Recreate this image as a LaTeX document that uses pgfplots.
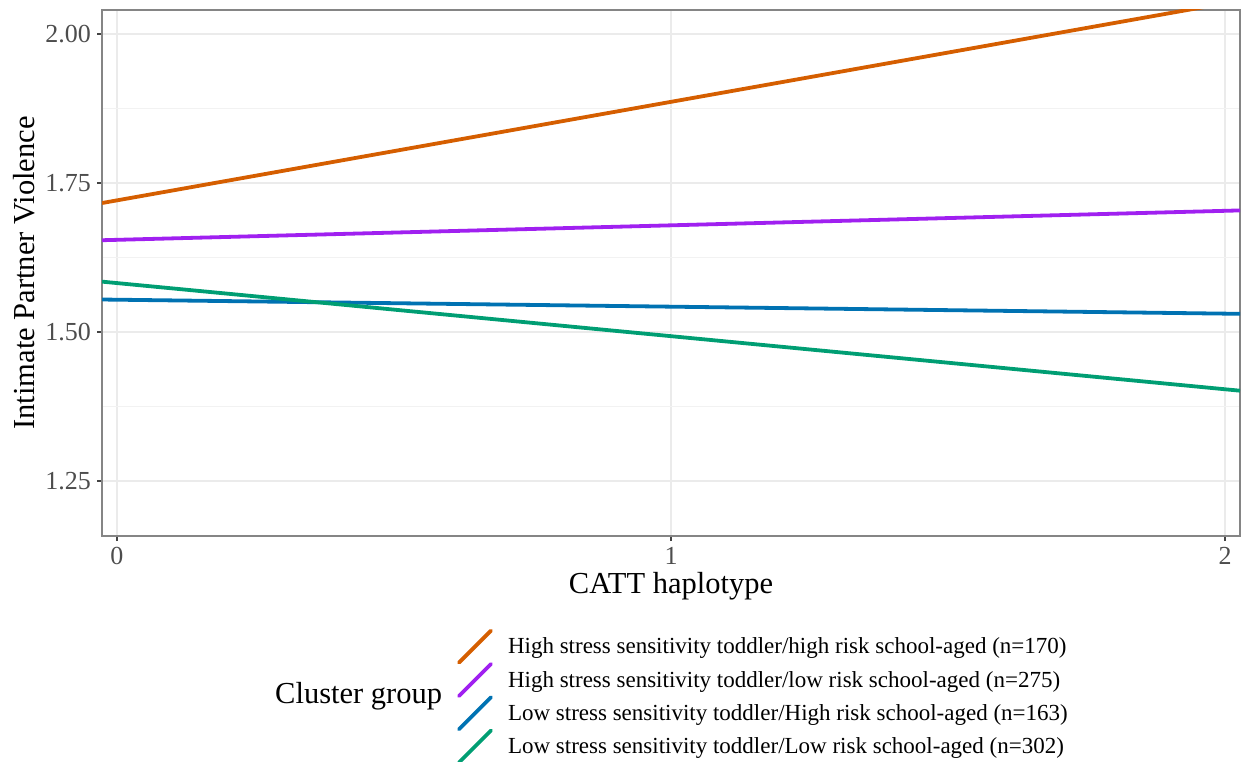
\documentclass[border=0pt]{standalone}
\usepackage{pgfplots}
\pgfplotsset{compat=1.18}
\usepackage{fontspec}
\setmainfont{Liberation Serif}

\definecolor{cOrange}{HTML}{D55E00}
\definecolor{cPurple}{HTML}{A020F0}
\definecolor{cBlue}{HTML}{0072B2}
\definecolor{cGreen}{HTML}{009E73}
\definecolor{gridmajor}{HTML}{EBEBEB}
\definecolor{gridminor}{HTML}{F2F2F2}
\definecolor{panelborder}{HTML}{858585}
\definecolor{tickcol}{HTML}{444444}
\definecolor{ticklab}{HTML}{4D4D4D}

\begin{document}
\begin{tikzpicture}[x=1pt,y=1pt]
\path[use as bounding box] (0,0) rectangle (1241,761);
\begin{axis}[
  at={(102pt,225pt)}, anchor=south west,
  scale only axis, width=1138pt, height=526pt,
  xmin=-0.027, xmax=2.027, ymin=1.1577, ymax=2.0403,
  xtick={0,1,2}, xticklabels={0,1,2},
  ytick={1.25,1.5,1.75,2}, yticklabels={1.25,1.50,1.75,2.00},
  minor ytick={1.375,1.625,1.875},
  xmajorgrids, ymajorgrids, yminorgrids,
  major grid style={color=gridmajor, line width=2pt},
  minor grid style={color=gridminor, line width=1.2pt},
  axis line style={color=panelborder, line width=1.6pt},
  tick align=outside, major tick length=5pt, minor tick length=0pt,
  xtick pos=lower, ytick pos=left,
  tick style={color=tickcol, line width=1.5pt},
  tick label style={font=\fontsize{26}{30}\selectfont, text=ticklab, inner sep=0pt},
  yticklabel style={anchor=east, xshift=-6pt},
  xticklabel style={anchor=north, yshift=-6pt},
  every axis x label/.style={at={(axis description cs:0.5,-0.1084)}, anchor=base},
  every axis y label/.style={at={(axis description cs:-0.0589,0.5)}, rotate=90, anchor=base},
  label style={font=\fontsize{30.5}{36}\selectfont},
  xlabel={CATT haplotype},
  ylabel={Intimate Partner Violence},
  legend cell align=left,
  legend style={at={(axis description cs:0.3137,-0.1787)}, anchor=north west,
    draw=none, fill=none, inner sep=0pt, outer sep=0pt, row sep=0pt,
    font=\fontsize{23}{27}\selectfont,
    nodes={inner sep=0pt},
    /tikz/every odd column/.append style={column sep=17pt}},
  legend image code/.code={
    \draw[#1, line cap=round, overlay] (0pt,-16pt) -- (32pt,16pt);
    \path[draw=none, fill=none] (0pt,-16.65pt) -- (32pt,16.65pt);
  },
]
\addplot[cOrange, line width=3.8pt] coordinates {(-0.027,1.7164) (2.027,2.056)};
\addlegendentry{High stress sensitivity toddler/high risk school-aged (n=170)}
\addplot[cPurple, line width=3.8pt] coordinates {(-0.027,1.654) (2.027,1.704)};
\addlegendentry{High stress sensitivity toddler/low risk school-aged (n=275)}
\addplot[cBlue, line width=3.8pt] coordinates {(-0.027,1.5545) (2.027,1.5305)};
\addlegendentry{Low stress sensitivity toddler/High risk school-aged (n=163)}
\addplot[cGreen, line width=3.8pt] coordinates {(-0.027,1.5845) (2.027,1.4015)};
\addlegendentry{Low stress sensitivity toddler/Low risk school-aged (n=302)}
\end{axis}
\node[font=\fontsize{30.5}{36}\selectfont, anchor=base west, inner sep=0pt] at (275,58) {Cluster group};
\end{tikzpicture}
\end{document}
